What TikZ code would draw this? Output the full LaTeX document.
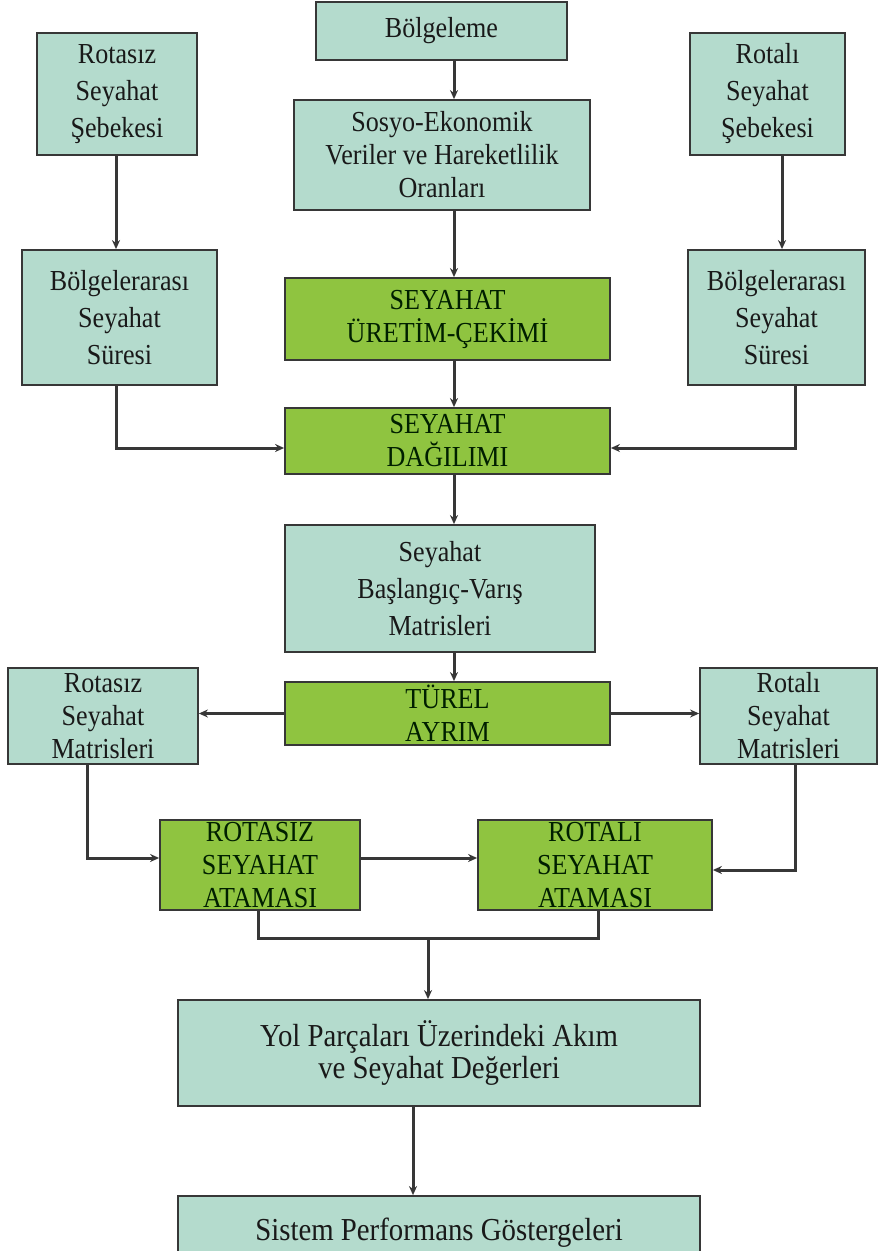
\documentclass[tikz,border=0pt]{standalone}
\usepackage{fontspec}
\setmainfont{Liberation Serif}[FakeStretch=0.9]
\usetikzlibrary{arrows.meta}
\definecolor{boxteal}{RGB}{180,219,205}
\definecolor{boxgreen}{RGB}{143,196,64}
\definecolor{linegray}{RGB}{55,55,55}
\begin{document}
\begin{tikzpicture}[x=0.5pt, y=-0.5pt,
    box/.style={draw=linegray, line width=0.9pt, fill=boxteal, inner sep=0pt,
        align=center, text=black!90, font=\fontsize{14.5pt}{16.5pt}\selectfont},
    tallbox/.style={box, font=\fontsize{14.5pt}{18.5pt}\selectfont},
    gbox/.style={box, fill=boxgreen, text=black!80!green!60!black},
    bigbox/.style={box, font=\fontsize{16pt}{16pt}\selectfont},
    link/.style={draw=linegray, line width=1.5pt},
    arr/.style={link, -{Stealth[length=4.5pt,width=4pt]}}]
    \useasboundingbox (0,0) rectangle (885,1251);
    \fill[white] (0,0) rectangle (885,1251);
    % Top row
    \node[box, minimum width=125.5pt, minimum height=29pt] (bolge) at (441.5,31) {Bölgeleme};
    \node[tallbox, minimum width=80pt, minimum height=61pt] (rsebeke) at (117,94) {Rotasız\\Seyahat\\Şebekesi};
    \node[tallbox, minimum width=77.5pt, minimum height=61pt] (lsebeke) at (767.5,94) {Rotalı\\Seyahat\\Şebekesi};
    \node[box, minimum width=148pt, minimum height=55pt] (sosyo) at (442,155) {Sosyo-Ekonomik\\Veriler ve Hareketlilik\\Oranları};
    % Travel times
    \node[tallbox, minimum width=97.5pt, minimum height=67.5pt] (lsure) at (119.5,317.5) {Bölgelerarası\\Seyahat\\Süresi};
    \node[tallbox, minimum width=88.5pt, minimum height=67.5pt] (rsure) at (776.5,317.5) {Bölgelerarası\\Seyahat\\Süresi};
    % Main steps
    \node[gbox, minimum width=162.5pt, minimum height=41pt] (uretim) at (447.5,319) {SEYAHAT\\ÜRETİM-ÇEKİMİ};
    \node[gbox, minimum width=162.5pt, minimum height=33pt] (dagilim) at (447.5,441) {SEYAHAT\\DAĞILIMI};
    \node[tallbox, minimum width=155pt, minimum height=63.5pt] (baslangic) at (440,588.5) {Seyahat\\Başlangıç-Varış\\Matrisleri};
    \node[gbox, minimum width=162.5pt, minimum height=31.5pt] (turel) at (447.5,713.5) {TÜREL\\AYRIM};
    \node[box, minimum width=95pt, minimum height=48pt] (lmatris) at (103,716) {Rotasız\\Seyahat\\Matrisleri};
    \node[box, minimum width=88.5pt, minimum height=48pt] (rmatris) at (788.5,716) {Rotalı\\Seyahat\\Matrisleri};
    % Assignment
    \node[gbox, minimum width=100pt, minimum height=45pt] (rzatama) at (260,865) {ROTASIZ\\SEYAHAT\\ATAMASI};
    \node[gbox, minimum width=117pt, minimum height=45pt] (rlatama) at (595,865) {ROTALI\\SEYAHAT\\ATAMASI};
    % Results
    \node[bigbox, minimum width=261pt, minimum height=53pt] (yol) at (439,1053) {Yol Parçaları Üzerindeki Akım\\ve Seyahat Değerleri};
    \node[bigbox, minimum width=261pt, minimum height=37pt] (sistem) at (439,1233) {Sistem Performans Göstergeleri};
    \coordinate (birles) at (428,938);
    % Connectors
    \draw[arr] (bolge.south -| 454,0) -- (sosyo.north -| 454,0);
    \draw[arr] (sosyo.south -| 454,0) -- (uretim.north -| 454,0);
    \draw[arr] (uretim.south -| 454,0) -- (dagilim.north -| 454,0);
    \draw[arr] (dagilim.south -| 454,0) -- (baslangic.north -| 454,0);
    \draw[arr] (baslangic.south -| 454,0) -- (turel.north -| 454,0);
    \draw[arr] (rsebeke.south -| 116,0) -- (lsure.north -| 116,0);
    \draw[arr] (lsebeke.south -| 782,0) -- (rsure.north -| 782,0);
    \draw[arr] (lsure.south -| 116,0) |- ([yshift=-3.5pt]dagilim.west);
    \draw[arr] (rsure.south -| 795,0) |- ([yshift=-3.5pt]dagilim.east);
    \draw[arr] (turel.west) -- (turel.west -| lmatris.east);
    \draw[arr] (turel.east) -- (turel.east -| rmatris.west);
    \draw[arr] (lmatris.south -| 87,0) |- ([yshift=3.5pt]rzatama.west);
    \draw[arr] (rmatris.south -| 795,0) |- ([yshift=-2.5pt]rlatama.east);
    \draw[arr] ([yshift=3.5pt]rzatama.east) -- ([yshift=3.5pt]rzatama.east -| rlatama.west);
    \draw[link] (rzatama.south -| 258,0) |- (birles) -| (rlatama.south -| 598,0);
    \draw[arr] (birles) -- (birles |- yol.north);
    \draw[arr] (yol.south -| 413,0) -- (sistem.north -| 413,0);
\end{tikzpicture}
\end{document}
